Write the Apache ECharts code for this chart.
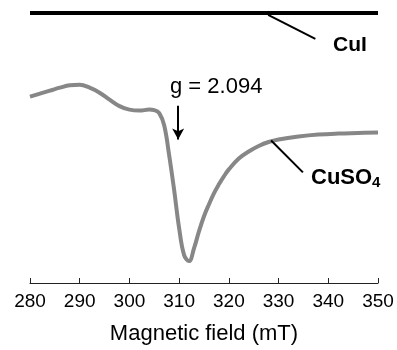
<!DOCTYPE html>
<html>
<head>
<meta charset="utf-8">
<script src="https://cdn.jsdelivr.net/npm/echarts@6/dist/echarts.min.js"></script>
<style>
  html, body { margin: 0; padding: 0; background: #fff; }
  #epr { width: 397px; height: 350px; }
</style>
</head>
<body>
<div id="epr"></div>
<script>
// magnetic field (mT) and signal (arb. units) for CuSO4
var cuso4Field = [280, 282, 284, 286, 288, 290, 292, 294, 296, 298, 300, 302, 304,
  305, 306, 307, 308, 309, 310, 311, 312, 313, 314, 315, 316, 317, 318, 319, 320,
  322, 324, 326, 328, 330, 334, 338, 342, 346, 350];
var cuso4Signal = [187, 190, 193, 196, 198.5, 199, 196, 191, 184, 177.5, 174, 173, 174,
  173.5, 170.5, 158, 128, 93, 55, 28, 22, 35, 52, 67, 79, 90, 99, 107, 114,
  125, 132, 137.5, 141.5, 144, 147, 149, 150, 150.5, 151];
// CuI is EPR silent: flat trace
var cuiField = [280, 290, 300, 310, 320, 330, 340, 350];
var cuiSignal = [271, 271, 271, 271, 271, 271, 271, 271];
var fieldTicks = [280, 290, 300, 310, 320, 330, 340, 350];

var fontFam = '"Liberation Sans", Arial, Helvetica, sans-serif';

function pairs(xs, ys) {
  var out = [];
  for (var i = 0; i < xs.length; i++) out.push([xs[i], ys[i]]);
  return out;
}

var myChart = echarts.init(document.getElementById('epr'));
var option = {
  animation: false,
  grid: { left: 30, right: 19, top: 0, bottom: 66 },
  xAxis: {
    type: 'value',
    min: fieldTicks[0],
    max: fieldTicks[fieldTicks.length - 1],
    interval: 10,
    name: 'Magnetic field (mT)',
    nameLocation: 'middle',
    nameGap: 40,
    nameTextStyle: { fontSize: 22, color: '#000', fontFamily: fontFam },
    axisLine: { lineStyle: { color: '#222', width: 1 } },
    axisTick: { inside: true, length: 5, lineStyle: { color: '#222' } },
    axisLabel: { fontSize: 19, color: '#000', margin: 9, fontFamily: fontFam },
    splitLine: { show: false }
  },
  yAxis: {
    type: 'value', min: 0, max: 284, show: false
  },
  series: [
    {
      name: 'CuI',
      type: 'line',
      data: pairs(cuiField, cuiSignal),
      showSymbol: false,
      lineStyle: { color: '#000', width: 4 },
      markLine: {
        silent: true, symbol: 'none', label: { show: false },
        lineStyle: { color: '#000', width: 2, type: 'solid' },
        data: [[{ coord: [327.9, 269] }, { coord: [337.4, 245] }]]
      }
    },
    {
      name: 'CuSO4',
      type: 'line',
      data: pairs(cuso4Field, cuso4Signal),
      smooth: 0.4,
      showSymbol: false,
      lineStyle: { color: '#878787', width: 4 },
      markLine: {
        silent: true, label: { show: false },
        lineStyle: { color: '#000', width: 2, type: 'solid' },
        data: [
          [{ coord: [328.5, 143], symbol: 'none' }, { coord: [334.9, 111], symbol: 'none' }],
          [{ coord: [309.8, 178], symbol: 'none' }, { coord: [309.8, 144], symbol: 'arrow', symbolSize: [9, 11] }]
        ]
      }
    }
  ],
  graphic: [
    { type: 'text', left: 333, top: 35,
      style: { text: 'CuI', font: 'bold 21px ' + fontFam, fill: '#000' } },
    { type: 'text', left: 170, top: 76,
      style: { text: 'g = 2.094', font: '22px ' + fontFam, fill: '#000' } },
    { type: 'text', left: 311, top: 167,
      style: {
        text: '{a|CuSO}{b|4}',
        rich: {
          a: { fontSize: 22, fontWeight: 'bold', fontFamily: fontFam, fill: '#000', color: '#000' },
          b: { fontSize: 15, fontWeight: 'bold', fontFamily: fontFam, fill: '#000', color: '#000', padding: [10, 0, 0, 0] }
        }
      } }
  ]
};
myChart.setOption(option);
window.addEventListener('resize', function () { myChart.resize(); });
</script>
</body>
</html>
